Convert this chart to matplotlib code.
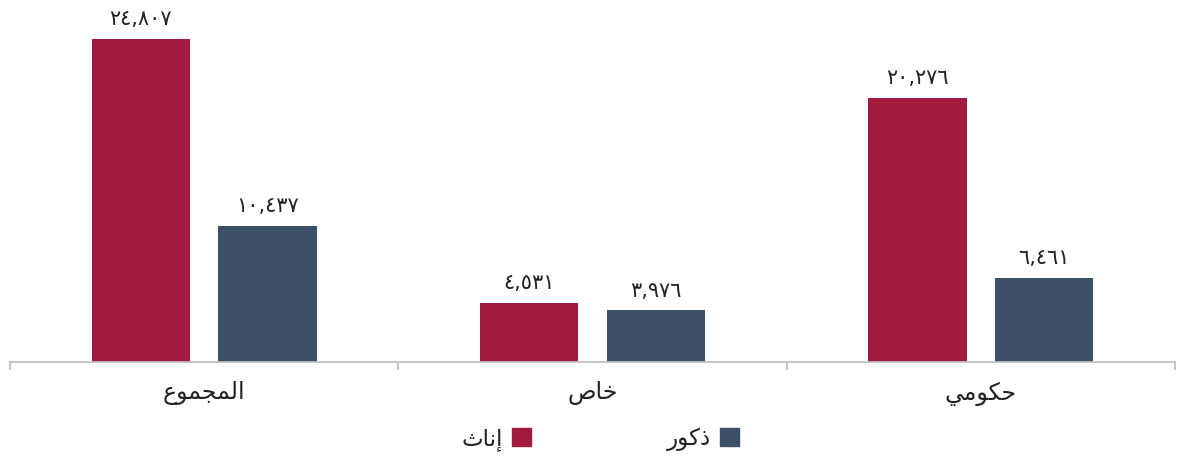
import matplotlib
matplotlib.use("Agg")
import matplotlib.pyplot as plt
from matplotlib.patches import Patch

# ---- data ----
categories = ["المجموع", "خاص", "حكومي"]
series_names = ["إناث", "ذكور"]
females = [24807, 4531, 20276]
males = [10437, 3976, 6461]
colors = ["#A21B3F", "#3C4F69"]

# ---- minimal Arabic shaping (matplotlib has no complex text layout) ----
FORMS = {  # letter: (isolated, final, initial, medial) ; None if no form
    "ا": ("\uFE8D", "\uFE8E", None, None),
    "إ": ("\uFE87", "\uFE88", None, None),
    "ل": ("\uFEDD", "\uFEDE", "\uFEDF", "\uFEE0"),
    "م": ("\uFEE1", "\uFEE2", "\uFEE3", "\uFEE4"),
    "ج": ("\uFE9D", "\uFE9E", "\uFE9F", "\uFEA0"),
    "و": ("\uFEED", "\uFEEE", None, None),
    "ع": ("\uFEC9", "\uFECA", "\uFECB", "\uFECC"),
    "خ": ("\uFEA5", "\uFEA6", "\uFEA7", "\uFEA8"),
    "ص": ("\uFEB9", "\uFEBA", "\uFEBB", "\uFEBC"),
    "ح": ("\uFEA1", "\uFEA2", "\uFEA3", "\uFEA4"),
    "ك": ("\uFED9", "\uFEDA", "\uFEDB", "\uFEDC"),
    "ي": ("\uFEF1", "\uFEF2", "\uFEF3", "\uFEF4"),
    "ن": ("\uFEE5", "\uFEE6", "\uFEE7", "\uFEE8"),
    "ث": ("\uFE99", "\uFE9A", "\uFE9B", "\uFE9C"),
    "ذ": ("\uFEAB", "\uFEAC", None, None),
    "ر": ("\uFEAD", "\uFEAE", None, None),
}

def shape(word):
    out = []
    n = len(word)
    for i, ch in enumerate(word):
        f = FORMS.get(ch)
        if f is None:
            out.append(ch)
            continue
        prev_joins = i > 0 and word[i - 1] in FORMS and FORMS[word[i - 1]][2] is not None
        next_exists = i < n - 1 and word[i + 1] in FORMS
        can_join_next = f[2] is not None and next_exists
        if prev_joins and can_join_next:
            out.append(f[3])
        elif prev_joins:
            out.append(f[1])
        elif can_join_next:
            out.append(f[2])
        else:
            out.append(f[0])
    return "".join(reversed(out))

def arabic_number(v):
    s = f"{v:,}"
    return s.translate(str.maketrans("0123456789", "٠١٢٣٤٥٦٧٨٩"))

plt.rcParams["font.family"] = ["DejaVu Sans"]

W, H = 1177, 459
fig = plt.figure(figsize=(W / 100, H / 100), dpi=100)
ax = fig.add_axes([10 / W, (H - 362) / H, 1165 / W, 357 / H])

x = list(range(len(categories)))
bw = 0.2526
off = 0.163
b1 = ax.bar([i - off for i in x], females, bw, color=colors[0], label=shape(series_names[0]))
b2 = ax.bar([i + off for i in x], males, bw, color=colors[1], label=shape(series_names[1]))

for bars, vals in ((b1, females), (b2, males)):
    for r, v in zip(bars, vals):
        ax.annotate(arabic_number(v), (r.get_x() + r.get_width() / 2, v),
                    xytext=(0, 7), textcoords="offset points",
                    ha="center", va="bottom", fontsize=15, color="#222222")

ax.set_xlim(-0.5, 2.5)
ax.set_ylim(0, 27418)
ax.set_yticks([])
for s in ("top", "right", "left"):
    ax.spines[s].set_visible(False)
ax.spines["bottom"].set_color("#BFBFBF")
ax.spines["bottom"].set_linewidth(1.3)

ax.set_xticks([-0.5, 0.5, 1.5, 2.5])
ax.set_xticklabels([])
ax.tick_params(axis="x", length=6, width=1.3, color="#BFBFBF")
ax.set_xticks(x, minor=True)
ax.set_xticklabels([shape(c) for c in categories], minor=True, fontsize=17, color="#222222")
ax.tick_params(axis="x", which="minor", length=0, pad=14)

handles = [Patch(color=colors[0], label=shape(series_names[0])),
           Patch(color=colors[1], label=shape(series_names[1]))]
fig.legend(handles=handles, loc="lower center", bbox_to_anchor=(0.51, -0.028), ncol=2,
           frameon=False, markerfirst=False, fontsize=16.5, handlelength=0.85,
           handleheight=0.85, handletextpad=0.4, columnspacing=5.9, labelcolor="#222222")

fig.savefig("out.png", dpi=100)
